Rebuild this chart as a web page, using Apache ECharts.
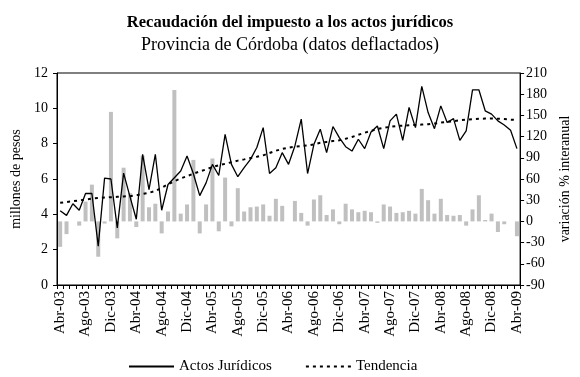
<!DOCTYPE html>
<html>
<head>
<meta charset="utf-8">
<script src="https://cdn.jsdelivr.net/npm/echarts@6/dist/echarts.min.js"></script>
<style>
  html, body { margin: 0; padding: 0; background: #fff; }
  #chart { width: 580px; height: 377px; }
</style>
</head>
<body>
<div id="chart"></div>
<script>
// Monthly series, April 2003 to April 2009
const months = [
  'Abr-03','May-03','Jun-03','Jul-03','Ago-03','Sep-03','Oct-03','Nov-03','Dic-03',
  'Ene-04','Feb-04','Mar-04','Abr-04','May-04','Jun-04','Jul-04','Ago-04','Sep-04','Oct-04','Nov-04','Dic-04',
  'Ene-05','Feb-05','Mar-05','Abr-05','May-05','Jun-05','Jul-05','Ago-05','Sep-05','Oct-05','Nov-05','Dic-05',
  'Ene-06','Feb-06','Mar-06','Abr-06','May-06','Jun-06','Jul-06','Ago-06','Sep-06','Oct-06','Nov-06','Dic-06',
  'Ene-07','Feb-07','Mar-07','Abr-07','May-07','Jun-07','Jul-07','Ago-07','Sep-07','Oct-07','Nov-07','Dic-07',
  'Ene-08','Feb-08','Mar-08','Abr-08','May-08','Jun-08','Jul-08','Ago-08','Sep-08','Oct-08','Nov-08','Dic-08',
  'Ene-09','Feb-09','Mar-09','Abr-09'
];

// Collection, millions of pesos (deflated)
const actosJuridicos = [
  4.2, 3.94, 4.6, 4.23, 5.18, 5.18, 2.2, 6.05, 6.0,
  3.23, 6.33, 5.0, 3.72, 7.4, 5.4, 7.4, 4.23, 5.69, 6.07, 6.45, 7.3,
  6.3, 5.06, 5.78, 6.83, 6.2, 8.53, 6.83, 6.13, 6.64, 7.11, 7.78, 8.91,
  6.31, 6.64, 7.49, 6.83, 7.87, 9.39, 6.31, 7.96, 8.82, 7.49, 8.97, 8.34,
  7.83, 7.58, 8.25, 7.72, 8.66, 9.0, 7.72, 9.29, 9.67, 8.19, 10.05, 8.91,
  11.24, 9.76, 8.85, 10.14, 9.2, 9.42, 8.19, 8.72, 11.05, 11.05, 9.86, 9.67,
  9.29, 9.06, 8.76, 7.72
];

// Trend of the collection, millions of pesos
const tendencia = [
  4.65, 4.7, 4.74, 4.79, 4.84, 4.89, 4.92, 4.95, 4.97,
  4.99, 5.01, 5.03, 5.08, 5.15, 5.22, 5.32, 5.5, 5.7, 5.88, 6.03, 6.16,
  6.3, 6.43, 6.54, 6.68, 6.78, 6.86, 6.95, 7.04, 7.11, 7.19, 7.26, 7.34,
  7.47, 7.6, 7.7, 7.78, 7.83, 7.87, 7.9, 7.96, 8.05, 8.1, 8.15, 8.19,
  8.28, 8.38, 8.5, 8.62, 8.72, 8.83, 8.9, 8.95, 9.0, 9.02, 9.04, 9.06,
  9.08, 9.1, 9.14, 9.19, 9.23, 9.28, 9.32, 9.36, 9.39, 9.41, 9.42, 9.42,
  9.41, 9.39, 9.36, 9.34
];

// Year-on-year change, %
const variacion = [
  -36, -18, 0, -6, 28, 52, -50, -3, 155,
  -24, 76, 40, -8, 93, 20, 25, -17, 14, 186, 11, 24,
  87, -17, 24, 89, -14, 62, -7, 47, 14, 20, 21, 24,
  8, 32, 22, 0, 29, 12, -6, 31, 37, 9, 17, -4,
  25, 17, 13, 15, 13, -2, 24, 21, 12, 13, 15, 11,
  46, 30, 11, 32, 9, 8, 9, -6, 17, 37, 2, 11,
  -15, -4, 0, -21
];

// Axis scales
const leftTicks = { min: 0, max: 12, interval: 2 };
const rightTicks = { min: -90, max: 210, interval: 30 };

const serif = "'Liberation Serif', 'Times New Roman', serif";
const chart = echarts.init(document.getElementById('chart'), null, { renderer: 'canvas' });

chart.setOption({
  animation: false,
  backgroundColor: '#ffffff',
  textStyle: { fontFamily: serif, color: '#000' },
  title: {
    text: 'Recaudación del impuesto a los actos jurídicos',
    subtext: 'Provincia de Córdoba (datos deflactados)',
    left: 'center',
    top: 9,
    itemGap: 5,
    textStyle: { fontFamily: serif, fontSize: 16.5, fontWeight: 'bold', color: '#000' },
    subtextStyle: { fontFamily: serif, fontSize: 18, color: '#000' }
  },
  legend: {
    bottom: -2,
    left: 123,
    itemWidth: 45,
    itemHeight: 10,
    itemGap: 33,
    itemStyle: { opacity: 0 },
    data: ['Actos Jurídicos', 'Tendencia'],
    textStyle: { fontFamily: serif, fontSize: 15, color: '#000' }
  },
  grid: {
    left: 57, right: 55, top: 73, bottom: 92,
    show: true, borderColor: '#000', borderWidth: 1,
    containLabel: false
  },
  xAxis: {
    type: 'category',
    data: months,
    boundaryGap: true,
    axisLine: { lineStyle: { color: '#000', width: 1 } },
    axisTick: { show: true, interval: 0, length: 4, lineStyle: { color: '#000' } },
    axisLabel: {
      interval: 3, rotate: 90, margin: 6,
      fontFamily: serif, fontSize: 15, color: '#000'
    },
    splitLine: { show: false }
  },
  yAxis: [
    {
      type: 'value',
      position: 'left',
      min: leftTicks.min, max: leftTicks.max, interval: leftTicks.interval,
      name: 'millones de pesos',
      nameLocation: 'middle',
      nameRotate: 90,
      nameGap: 31,
      nameTextStyle: { fontFamily: serif, fontSize: 14, color: '#000' },
      axisLine: { show: true, lineStyle: { color: '#000' } },
      axisTick: { show: true, length: 4, lineStyle: { color: '#000' } },
      axisLabel: { margin: 9, fontFamily: serif, fontSize: 14, color: '#000' },
      splitLine: { show: false }
    },
    {
      type: 'value',
      position: 'right',
      min: rightTicks.min, max: rightTicks.max, interval: rightTicks.interval,
      name: 'variación % interanual',
      nameLocation: 'middle',
      nameRotate: 90,
      nameGap: 36,
      nameTextStyle: { fontFamily: serif, fontSize: 14, color: '#000' },
      axisLine: { show: true, lineStyle: { color: '#000' } },
      axisTick: { show: true, length: 4, lineStyle: { color: '#000' } },
      axisLabel: { margin: 6, fontFamily: serif, fontSize: 14, color: '#000' },
      splitLine: { show: false }
    }
  ],
  series: [
    {
      name: 'Variación interanual',
      type: 'bar',
      yAxisIndex: 1,
      data: variacion,
      barWidth: 4,
      itemStyle: { color: '#c0c0c0' },
      z: 1
    },
    {
      name: 'Actos Jurídicos',
      type: 'line',
      yAxisIndex: 0,
      data: actosJuridicos,
      symbol: 'none',
      lineStyle: { color: '#000', width: 1.3, type: 'solid' },
      itemStyle: { color: '#000' },
      z: 3
    },
    {
      name: 'Tendencia',
      type: 'line',
      yAxisIndex: 0,
      data: tendencia,
      symbol: 'none',
      lineStyle: { color: '#000', width: 2, type: [3, 4] },
      itemStyle: { color: '#000' },
      z: 2
    }
  ]
});
</script>
</body>
</html>
